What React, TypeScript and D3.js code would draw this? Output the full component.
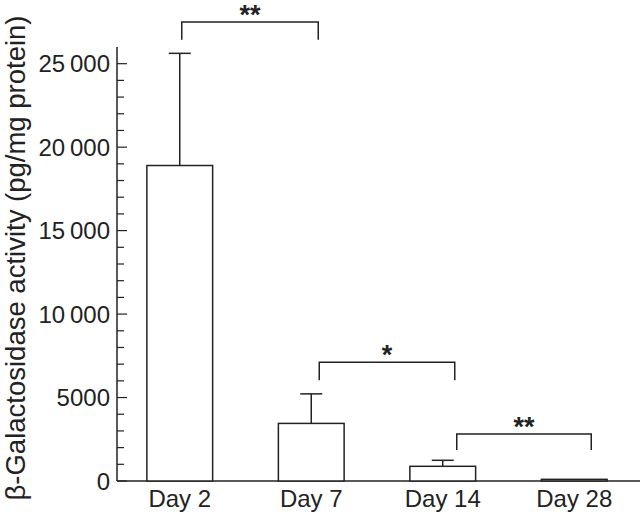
import { useEffect, useRef } from "react"
import * as d3 from "d3"

const days = ["Day 2", "Day 7", "Day 14", "Day 28"]
const means = [18900, 3450, 880, 100]
const upperErr: (number | null)[] = [25620, 5220, 1240, null]
const yTicks = [0, 5000, 10000, 15000, 20000, 25000]

// significance brackets
const bracketFrom = [0, 1, 2]
const bracketTo = [1, 2, 3]
const bracketTop = [27500, 7120, 2810]
const bracketLeg = [26430, 6040, 1850]
const bracketLabel = ["**", "*", "**"]

const W = 640, H = 517
const ink = "#222"
const font = "'Liberation Sans', Arial, sans-serif"

const fmt = (v: number) => v >= 10000 ? `${Math.floor(v / 1000)}\u2009000` : `${v}`

export default function App() {
    const ref = useRef<SVGSVGElement>(null)

    useEffect(() => {
        const svg = d3.select(ref.current)
        svg.selectAll("*").remove()

        const x0 = 117, y0 = 481

        const x = d3.scaleBand()
            .domain(days)
            .range([114, 640])
            .paddingInner(0.5)
            .paddingOuter(0.25)

        const y = d3.scaleLinear()
            .domain([0, 26000])
            .range([y0, 47])

        const g = svg.append("g")
            .attr("font-family", font)

        // y axis
        g.append("line")
            .attr("x1", x0).attr("x2", x0)
            .attr("y1", y(0)).attr("y2", y(26000))
            .attr("stroke", ink).attr("stroke-width", 1.5)

        g.selectAll(".minor")
            .data(d3.range(1000, 26000, 1000).filter((v) => v % 5000 !== 0))
            .join("line")
            .attr("class", "minor")
            .attr("x1", x0).attr("x2", x0 + 7)
            .attr("y1", (d) => y(d)).attr("y2", (d) => y(d))
            .attr("stroke", ink).attr("stroke-width", 1.2)

        g.selectAll(".major")
            .data(yTicks)
            .join("line")
            .attr("class", "major")
            .attr("x1", x0).attr("x2", x0 + 10)
            .attr("y1", (d) => y(d)).attr("y2", (d) => y(d))
            .attr("stroke", ink).attr("stroke-width", 1.2)

        g.selectAll(".ylab")
            .data(yTicks)
            .join("text")
            .attr("class", "ylab")
            .attr("x", x0 - 7)
            .attr("y", (d) => y(d))
            .attr("dy", "0.36em")
            .attr("text-anchor", "end")
            .attr("font-size", 24)
            .attr("fill", ink)
            .text((d) => fmt(d))

        g.append("text")
            .attr("transform", `translate(25, 258) rotate(-90)`)
            .attr("text-anchor", "middle")
            .attr("font-size", 27.5)
            .attr("fill", ink)
            .text("β-Galactosidase activity (pg/mg protein)")

        // x axis
        g.append("line")
            .attr("x1", x0).attr("x2", W)
            .attr("y1", y0).attr("y2", y0)
            .attr("stroke", ink).attr("stroke-width", 1.5)

        g.selectAll(".xlab")
            .data(days)
            .join("text")
            .attr("class", "xlab")
            .attr("x", (d) => x(d)! + x.bandwidth() / 2)
            .attr("y", 507)
            .attr("text-anchor", "middle")
            .attr("font-size", 24)
            .attr("fill", ink)
            .text((d) => d)

        // error bars
        const cap = 11
        days.forEach((d, i) => {
            const e = upperErr[i]
            if (e == null) return
            const cx = x(d)! + x.bandwidth() / 2
            g.append("line")
                .attr("x1", cx).attr("x2", cx)
                .attr("y1", y(means[i])).attr("y2", y(e))
                .attr("stroke", ink).attr("stroke-width", 1.5)
            g.append("line")
                .attr("x1", cx - cap).attr("x2", cx + cap)
                .attr("y1", y(e)).attr("y2", y(e))
                .attr("stroke", ink).attr("stroke-width", 1.5)
        })

        // bars
        g.selectAll(".bar")
            .data(days)
            .join("rect")
            .attr("class", "bar")
            .attr("x", (d) => x(d)!)
            .attr("y", (d, i) => y(means[i]))
            .attr("width", x.bandwidth())
            .attr("height", (d, i) => y(0) - y(means[i]))
            .attr("fill", "white")
            .attr("stroke", ink)
            .attr("stroke-width", 1.5)

        // significance brackets
        bracketLabel.forEach((lab, i) => {
            const xl = x(days[bracketFrom[i]])! + x.bandwidth() / 2 + 2 + 6 * i
            const xr = x(days[bracketTo[i]])! + x.bandwidth() / 2 + 7 + 5 * i
            const yt = y(bracketTop[i]), yl = y(bracketLeg[i])
            g.append("path")
                .attr("d", `M${xl},${yl}V${yt}H${xr}V${yl}`)
                .attr("fill", "none")
                .attr("stroke", ink)
                .attr("stroke-width", 1.5)
            g.append("text")
                .attr("x", (xl + xr) / 2)
                .attr("y", yt + 2)
                .attr("text-anchor", "middle")
                .attr("font-size", 27)
                .attr("font-weight", "bold")
                .attr("fill", ink)
                .text(lab)
        })
    }, [])

    return (
        <svg ref={ref} width={W} height={H}
            style={{ position: "absolute", left: 0, top: 0, background: "white" }} />
    )
}
